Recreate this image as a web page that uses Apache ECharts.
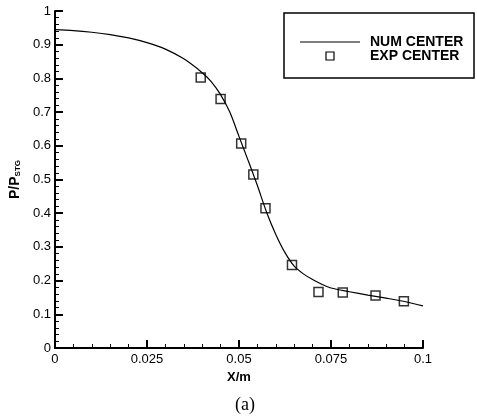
<!DOCTYPE html>
<html>
<head>
<meta charset="utf-8">
<script src="https://cdn.jsdelivr.net/npm/echarts@6/dist/echarts.min.js"></script>
<style>
html,body{margin:0;padding:0;background:#fff;}
#chart{width:477px;height:420px;}
</style>
</head>
<body>
<div id="chart"></div>
<script>
// NUM CENTER curve: x (m) and P/Pstg
var numX = [0, 0.005, 0.01, 0.015, 0.02, 0.025, 0.03, 0.035, 0.04, 0.0425, 0.045, 0.0475, 0.05, 0.0525, 0.055, 0.0575, 0.06, 0.0625, 0.065, 0.0675, 0.07, 0.0725, 0.075, 0.08, 0.085, 0.09, 0.095, 0.1];
var numY = [0.945, 0.942, 0.937, 0.930, 0.920, 0.906, 0.887, 0.858, 0.817, 0.790, 0.752, 0.700, 0.628, 0.556, 0.482, 0.403, 0.337, 0.283, 0.243, 0.220, 0.203, 0.189, 0.178, 0.167, 0.157, 0.148, 0.138, 0.125];
// EXP CENTER points
var expX = [0.0396, 0.045, 0.0506, 0.0539, 0.0572, 0.0644, 0.0716, 0.0782, 0.0871, 0.0948];
var expY = [0.803, 0.739, 0.607, 0.515, 0.415, 0.246, 0.166, 0.165, 0.156, 0.139];
// tick labels
var xTicks = {0: '0', 0.025: '0.025', 0.05: '0.05', 0.075: '0.075', 0.1: '0.1'};
var seriesNames = ['NUM CENTER', 'EXP CENTER'];

function zip(a, b) { return a.map(function (v, i) { return [v, b[i]]; }); }

var chart = echarts.init(document.getElementById('chart'), null, {renderer: 'canvas'});
var font = '"Liberation Sans", Arial, sans-serif';
var serif = '"Liberation Serif", "Times New Roman", serif';
chart.setOption({
  animation: false,
  backgroundColor: '#fff',
  grid: {left: 52, right: 54, top: 11, bottom: 72},
  xAxis: {
    type: 'value', min: 0, max: 0.1, interval: 0.025,
    name: 'X/m', nameLocation: 'middle', nameGap: 17,
    nameTextStyle: {fontFamily: font, fontSize: 13, fontWeight: 'bold', color: '#000'},
    axisLine: {show: true, lineStyle: {color: '#000', width: 2}},
    axisTick: {show: true, inside: true, length: 8, lineStyle: {color: '#000', width: 2}},
    minorTick: {show: true, splitNumber: 5, length: 4, lineStyle: {color: '#000', width: 1}},
    splitLine: {show: false},
    axisLabel: {margin: 5, fontFamily: font, fontSize: 13, color: '#000',
      formatter: function (v) { var k = Math.round(v * 1000) / 1000; return xTicks[k] !== undefined ? xTicks[k] : String(k); }}
  },
  yAxis: {
    type: 'value', min: 0, max: 1, interval: 0.1,
    name: 'P/P{sub|STG}', nameLocation: 'middle', nameGap: 28, nameRotate: 90,
    nameTextStyle: {fontFamily: font, fontSize: 14, fontWeight: 'bold', color: '#000',
      rich: {sub: {fontFamily: font, fontSize: 8, fontWeight: 'bold', color: '#000', verticalAlign: 'bottom', padding: [6, 0, 0, 0]}}},
    axisLine: {show: true, lineStyle: {color: '#000', width: 2}},
    axisTick: {show: true, inside: true, length: 8, lineStyle: {color: '#000', width: 2}},
    minorTick: {show: true, splitNumber: 5, length: 4, lineStyle: {color: '#000', width: 1}},
    splitLine: {show: false},
    axisLabel: {margin: 4, fontFamily: font, fontSize: 13, color: '#000',
      formatter: function (v) { return String(Math.round(v * 10) / 10); }}
  },
  series: [
    {
      name: seriesNames[0], type: 'line', data: zip(numX, numY),
      showSymbol: false, smooth: 0.3,
      lineStyle: {color: '#000', width: 1.2}
    },
    {
      name: seriesNames[1], type: 'scatter', data: zip(expX, expY),
      symbol: 'rect', symbolSize: 9,
      itemStyle: {color: 'rgba(0,0,0,0)', borderColor: '#000', borderWidth: 1.5}
    }
  ],
  graphic: [
    {type: 'rect', shape: {x: 284, y: 13, width: 190, height: 65}, style: {fill: '#fff', stroke: '#000', lineWidth: 1.5}, z: 10},
    {type: 'line', shape: {x1: 300, y1: 42, x2: 360, y2: 42}, style: {stroke: '#000', lineWidth: 1.2}, z: 11},
    {type: 'text', x: 370, y: 42, style: {text: seriesNames[0], font: 'bold 14px ' + font, fill: '#000', textVerticalAlign: 'middle'}, z: 11},
    {type: 'rect', shape: {x: 326, y: 52, width: 8, height: 8}, style: {fill: 'none', stroke: '#000', lineWidth: 1.2}, z: 11},
    {type: 'text', x: 370, y: 56, style: {text: seriesNames[1], font: 'bold 14px ' + font, fill: '#000', textVerticalAlign: 'middle'}, z: 11},
    {type: 'text', x: 245, y: 405, style: {text: '(a)', font: '18px ' + serif, fill: '#000', textAlign: 'center', textVerticalAlign: 'middle'}}
  ]
});
</script>
</body>
</html>
